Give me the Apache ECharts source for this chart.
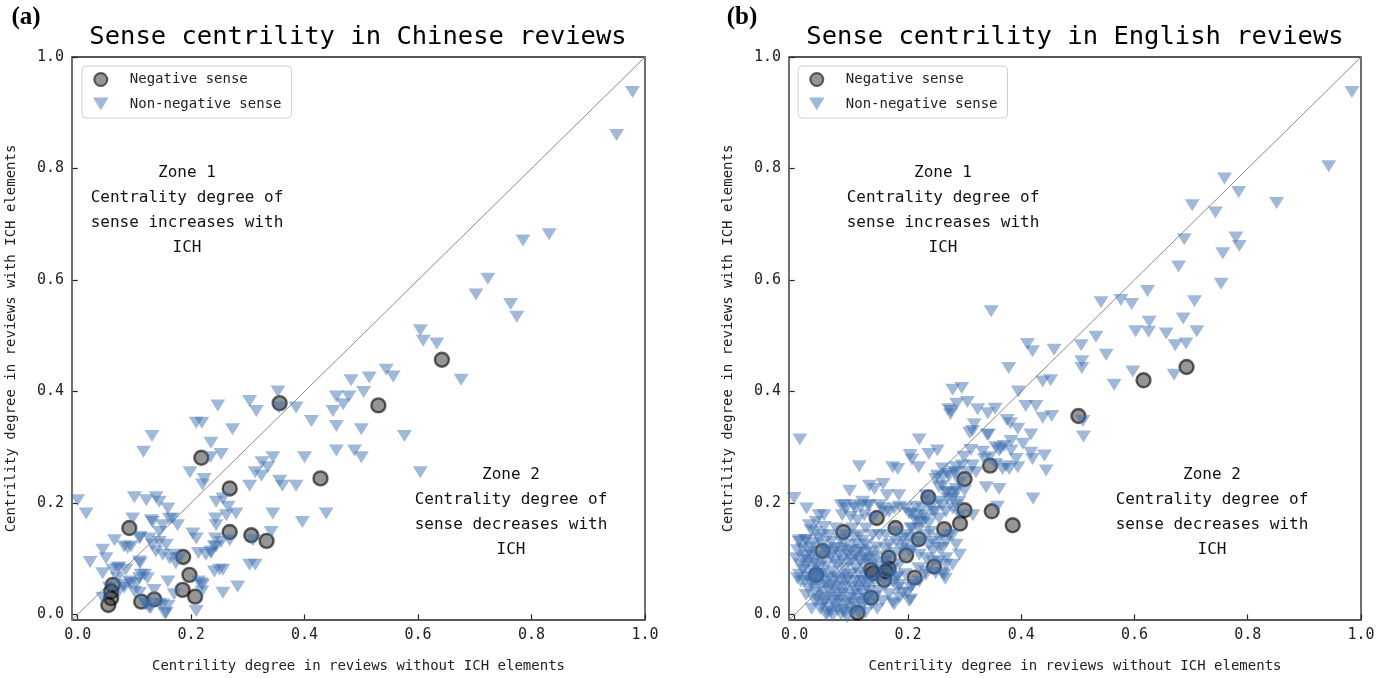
<!DOCTYPE html>
<html>
<head>
<meta charset="utf-8">
<script src="https://cdn.jsdelivr.net/npm/echarts@6/dist/echarts.min.js"></script>
<style>
html,body{margin:0;padding:0;background:#fff;}
#chart{width:1388px;height:678px;}
</style>
</head>
<body>
<div id="chart"></div>
<script>
// ---------- data ----------
const tickValues = [0, 0.2, 0.4, 0.6, 0.8, 1.0];
const diagonal = [[-0.01, -0.01], [1, 1]];

const cnNegative = [
  [0.642,0.457],[0.530,0.375],[0.356,0.379],[0.218,0.281],[0.428,0.244],[0.268,0.226],
  [0.268,0.148],[0.306,0.142],[0.333,0.132],[0.091,0.155],[0.186,0.103],[0.197,0.071],
  [0.185,0.044],[0.207,0.032],[0.135,0.027],[0.112,0.023],[0.062,0.053],[0.059,0.041],
  [0.059,0.029],[0.054,0.017]
];

const cnNonNegative = [
  [0.978,0.937],[0.950,0.860],[0.831,0.682],[0.785,0.671],[0.723,0.602],[0.702,0.574],
  [0.763,0.557],[0.774,0.534],[0.604,0.510],[0.609,0.491],[0.633,0.486],[0.676,0.421],
  [0.544,0.439],[0.556,0.427],
  [0.514,0.425],[0.482,0.420],[0.504,0.399],[0.456,0.391],[0.478,0.391],[0.468,0.377],
  [0.450,0.365],[0.385,0.371],[0.412,0.347],[0.456,0.338],[0.500,0.332],[0.576,0.320],
  [0.456,0.294],[0.488,0.294],[0.500,0.282],[0.400,0.282],[0.604,0.255],[0.438,0.181],
  [0.396,0.166],
  [0.353,0.400],[0.355,0.371],[0.303,0.383],[0.315,0.365],[0.247,0.375],[0.273,0.332],
  [0.209,0.344],[0.219,0.344],[0.235,0.308],[0.253,0.288],[0.234,0.282],[0.198,0.255],
  [0.223,0.243],[0.220,0.233],[0.131,0.320],[0.116,0.292],
  [0.303,0.231],[0.313,0.255],[0.325,0.273],[0.335,0.264],[0.324,0.249],[0.344,0.282],
  [0.356,0.240],[0.361,0.231],[0.385,0.231],
  [0.244,0.202],[0.256,0.208],[0.265,0.193],[0.262,0.178],[0.279,0.181],[0.243,0.172],
  [0.244,0.160],[0.344,0.181],[0.341,0.148],[0.309,0.133],[0.268,0.133],[0.253,0.130],
  [0.243,0.136],[0.241,0.122],[0.235,0.110],[0.213,0.110],[0.203,0.145],[0.209,0.136],
  [0.226,0.107],[0.250,0.080],[0.241,0.077],[0.256,0.080],[0.303,0.089],[0.313,0.089],
  [0.282,0.050],[0.256,0.039],[0.220,0.053],[0.219,0.041],[0.209,0.006],[0.213,0.059],
  [0.154,0.001],[0.159,0.015],[0.144,0.019],[0.121,0.018],[0.129,0.012],
  [0.100,0.210],[0.121,0.205],[0.138,0.210],[0.144,0.202],[0.159,0.190],[0.176,0.160],
  [0.167,0.172],[0.150,0.160],[0.144,0.148],[0.132,0.166],[0.109,0.136],[0.097,0.172],
  [0.065,0.133],[0.082,0.122],[0.088,0.119],[0.044,0.116],[0.050,0.101],[0.022,0.094],
  [0.000,0.205],[0.015,0.181],[0.044,0.074],[0.062,0.080],[0.070,0.083],[0.085,0.080],
  [0.112,0.071],[0.109,0.095],[0.126,0.136],[0.132,0.125],[0.144,0.130],[0.156,0.125],
  [0.150,0.107],[0.162,0.101],[0.170,0.107],[0.179,0.101],[0.173,0.092],[0.138,0.113],
  [0.123,0.065],[0.109,0.065],[0.094,0.056],[0.082,0.048],[0.100,0.041],[0.056,0.048],
  [0.044,0.030],[0.070,0.065],[0.135,0.044],[0.159,0.059],[0.170,0.036],
  [0.130,0.169],[0.162,0.171],[0.110,0.139],[0.094,0.122],[0.073,0.084],[0.110,0.092],
  [0.118,0.071],[0.235,0.113],[0.244,0.122],[0.218,0.056],[0.156,0.003],[0.150,0.018],
  [0.126,0.012],[0.118,0.021],[0.082,0.053],[0.091,0.059],[0.103,0.056],[0.073,0.041],
  [0.109,0.039]
];

const enNegative = [
  [0.692,0.444],[0.616,0.420],[0.501,0.356],[0.345,0.267],[0.300,0.243],[0.300,0.187],
  [0.348,0.185],[0.292,0.163],[0.385,0.160],[0.264,0.153],[0.236,0.210],[0.219,0.135],
  [0.197,0.106],[0.212,0.066],[0.246,0.086],[0.145,0.173],[0.178,0.155],[0.086,0.148],
  [0.166,0.102],[0.166,0.082],[0.138,0.074],[0.158,0.062],[0.135,0.030],[0.111,0.003],
  [0.049,0.114],[0.038,0.071],[0.135,0.080],[0.161,0.077]
];

const enNonNegative = [
  [0.984,0.937],[0.943,0.804],[0.851,0.738],[0.784,0.758],[0.759,0.782],[0.702,0.734],
  [0.743,0.721],[0.688,0.673],[0.779,0.676],[0.785,0.661],[0.756,0.648],[0.678,0.624],
  [0.753,0.593],[0.623,0.580],[0.541,0.560],[0.576,0.564],[0.595,0.557],[0.706,0.562],
  [0.686,0.531],[0.626,0.525],[0.602,0.508],[0.625,0.507],[0.656,0.504],[0.710,0.508],
  [0.672,0.483],[0.691,0.486],[0.532,0.498],[0.506,0.483],[0.550,0.466],[0.458,0.475],
  [0.507,0.454],[0.507,0.442],[0.597,0.436],[0.670,0.430],[0.564,0.412],[0.438,0.418],
  [0.452,0.420],
  [0.509,0.347],[0.510,0.319],[0.438,0.353],[0.454,0.356],[0.444,0.258],
  [0.347,0.544],[0.411,0.485],[0.420,0.472],[0.378,0.442],[0.295,0.406],[0.395,0.400],
  [0.408,0.374],[0.426,0.374],[0.286,0.378],[0.305,0.381],[0.276,0.365],[0.323,0.368],
  [0.341,0.361],[0.354,0.369],[0.317,0.341],[0.314,0.329],[0.342,0.323],[0.375,0.349],
  [0.381,0.343],[0.394,0.333],[0.417,0.323],[0.382,0.311],[0.403,0.306],[0.355,0.300],
  [0.364,0.298],[0.311,0.295],[0.299,0.283],[0.332,0.292],[0.335,0.279],[0.382,0.294],
  [0.391,0.279],[0.417,0.290],[0.420,0.279],[0.355,0.270],[0.373,0.266],[0.394,0.264],
  [0.285,0.264],[0.338,0.228],[0.361,0.225],[0.421,0.208],[0.285,0.225],[0.300,0.222],
  [0.279,0.208],[0.290,0.202],[0.358,0.193],[0.315,0.178],
  [0.279,0.403],[0.272,0.368],[0.275,0.359],[0.309,0.326],[0.340,0.322],[0.441,0.285],
  [0.220,0.314],[0.219,0.264],[0.204,0.286],[0.207,0.278],[0.237,0.288],[0.252,0.294],
  [0.261,0.262],[0.173,0.264],[0.182,0.261],[0.114,0.266],[0.009,0.314],[-0.001,0.209],
  [0.021,0.190],[0.008,0.133],[0.019,0.133],[0.043,0.178],[0.052,0.178],[0.029,0.151],
  [0.049,0.142],[0.097,0.222],[0.132,0.231],[0.141,0.225],[0.156,0.234],[0.088,0.196],
  [0.106,0.190],[0.120,0.202],[0.132,0.196],[0.163,0.214],[0.184,0.214],[0.232,0.214],
  [0.237,0.205],[0.255,0.228],[0.267,0.219],[0.278,0.217],[0.285,0.196],[0.252,0.249],
  [0.261,0.246],[0.270,0.252],[0.282,0.255],[0.291,0.237],
  [0.361,0.294],[0.370,0.302],[0.344,0.282],[0.367,0.261],[0.379,0.261],[0.296,0.267],
  [0.314,0.267],[0.308,0.255],[0.320,0.255],
  [0.261,0.196],[0.248,0.184],[0.237,0.163],[0.240,0.148],[0.255,0.136],[0.273,0.142],
  [0.237,0.125],[0.261,0.119],[0.244,0.095],[0.267,0.089],[0.261,0.074],[0.266,0.064],
  [0.219,0.083],[0.231,0.077],[0.205,0.048],[0.191,0.039],[0.173,0.021],[0.205,0.027],
  [0.184,0.053],[0.182,0.068],[0.203,0.113],[0.191,0.136],[0.205,0.154],[0.196,0.190],
  [0.206,0.181],[0.213,0.178],[0.225,0.190],[0.213,0.169],[0.225,0.166],[0.219,0.154],
  [0.150,0.196],[0.161,0.184],[0.176,0.190],
  [0.038,0.166],[0.082,0.196],[0.090,0.190],[0.105,0.196],[0.117,0.193],[0.129,0.196],
  [0.084,0.178],[0.099,0.175],[0.111,0.169],[0.123,0.178],[0.138,0.172],
  [0.008,0.130],[0.020,0.133],[0.032,0.128],[0.049,0.125],[0.058,0.116],[0.064,0.130],
  [0.073,0.119],[0.090,0.125],[0.099,0.116],[0.108,0.125],[0.117,0.116],[0.126,0.125],
  [0.108,0.104],[0.123,0.101],[0.135,0.113],[0.143,0.104],[0.079,0.107],
  [0.002,0.101],[0.017,0.098],[0.029,0.107],[0.034,0.092],
  [0.014,0.080],[0.023,0.068],[0.008,0.071],[0.043,0.083],[0.055,0.086],[0.067,0.077],
  [0.076,0.089],[0.087,0.083],[0.096,0.092],[0.108,0.083],[0.120,0.089],
  [0.011,0.059],[0.029,0.056],[0.043,0.059],[0.055,0.053],[0.067,0.059],[0.079,0.050],
  [0.090,0.059],[0.102,0.050],[0.114,0.059],[0.126,0.050],
  [0.037,0.039],[0.049,0.033],[0.061,0.042],[0.073,0.030],[0.085,0.039],[0.096,0.030],
  [0.108,0.042],[0.120,0.036],[0.132,0.042],
  [0.049,0.018],[0.061,0.012],[0.073,0.018],[0.085,0.009],[0.096,0.018],[0.108,0.012],
  [0.120,0.018],
  [0.055,0.000],[0.067,-0.003],[0.082,0.000],[0.093,-0.005],
  [0.149,0.065],[0.161,0.053],[0.173,0.059],[0.182,0.047],[0.149,0.042],[0.167,0.036],
  [0.185,0.030],[0.199,0.039],[0.208,0.053],[0.220,0.059],[0.202,0.024],[0.176,0.018],
  [0.155,0.024],
  [0.167,0.125],[0.179,0.130],[0.193,0.125],[0.205,0.136],[0.220,0.130],[0.232,0.142],
  [0.244,0.130],[0.255,0.119],[0.267,0.130],[0.279,0.142],[0.285,0.125],[0.291,0.107],
  [0.208,0.116],[0.220,0.107],[0.232,0.101],[0.244,0.113],[0.255,0.095],[0.267,0.101],
  [0.279,0.089],[0.264,0.071],[0.249,0.074],[0.232,0.071],
  [0.026,0.160],[0.037,0.148],[0.052,0.157],[0.061,0.142],[0.073,0.154],[0.090,0.142],
  [0.102,0.154],[0.114,0.142],[0.126,0.154],[0.138,0.142],[0.149,0.142],[0.161,0.142],
  [0.179,0.148],[0.196,0.142],[0.208,0.154],[0.220,0.166],[0.232,0.172],[0.244,0.184],
  [0.255,0.172],[0.267,0.184],[0.279,0.190],[0.291,0.178],
  [0.155,0.190],[0.167,0.184],[0.185,0.193],[0.202,0.181],[0.214,0.193],[0.226,0.178],
  [0.241,0.193],[0.255,0.202],[0.270,0.208],[0.285,0.219],
  [0.249,0.243],[0.261,0.231],[0.273,0.249],[0.285,0.255],[0.270,0.219],
  [0.014,0.118],[0.026,0.112],[0.040,0.104],[0.052,0.098],[0.064,0.104],[0.070,0.094],
  [0.084,0.098],[0.094,0.106],[0.102,0.098],[0.115,0.095],[0.128,0.097],[0.138,0.090],
  [0.020,0.086],[0.032,0.078],[0.047,0.072],[0.060,0.068],[0.074,0.066],[0.088,0.070],
  [0.100,0.072],[0.113,0.074],[0.125,0.068],[0.140,0.060],
  [0.024,0.046],[0.034,0.054],[0.046,0.046],[0.058,0.030],[0.070,0.045],[0.080,0.024],
  [0.090,0.048],[0.104,0.022],[0.115,0.046],[0.128,0.028],[0.140,0.032],
  [0.064,0.005],[0.076,0.008],[0.100,0.004],[0.114,0.002],[0.045,0.010],[0.035,0.025],
  [0.150,0.086],[0.158,0.094],[0.172,0.082],[0.185,0.090],[0.195,0.072],[0.178,0.110],
  [0.190,0.118],[0.160,0.118],[0.105,0.138],[0.120,0.132],[0.080,0.135],[0.042,0.136],
  [0.030,0.120],
  [0.005,0.115],[0.018,0.105],[0.010,0.090],[0.025,0.096],[0.040,0.090],[0.055,0.112],
  [0.068,0.112],[0.080,0.118],[0.092,0.113],[0.110,0.112],[0.125,0.110],[0.135,0.100],
  [0.005,0.065],[0.018,0.060],[0.030,0.066],[0.040,0.072],[0.052,0.064],[0.063,0.050],
  [0.080,0.062],[0.094,0.065],[0.107,0.060],[0.120,0.060],[0.132,0.056],
  [0.020,0.035],[0.040,0.028],[0.052,0.022],[0.066,0.025],[0.078,0.036],[0.090,0.020],
  [0.102,0.035],[0.112,0.028],[0.124,0.022],[0.136,0.018],[0.146,0.010],
  [0.058,0.002],[0.088,0.003],[0.125,0.003],[0.030,0.010],
  [0.145,0.120],[0.150,0.075],[0.168,0.070],[0.180,0.065],[0.165,0.100]
];

const legendNames = ['Negative sense', 'Non-negative sense'];
const panelTitles = ['Sense centrility in Chinese reviews', 'Sense centrility in English reviews'];
const panelTags = ['(a)', '(b)'];
const xAxisName = 'Centrility degree in reviews without ICH elements';
const yAxisName = 'Centrility degree in reviews with ICH elements';
const zone1Text = 'Zone 1\nCentrality degree of\nsense increases with\nICH';
const zone2Text = 'Zone 2\nCentrality degree of\nsense decreases with\nICH';

// ---------- chart ----------
const MONO = '"DejaVu Sans Mono", monospace';
const TRI = 'path://M0,0L12,0L6,10Z';
const chart = echarts.init(document.getElementById('chart'), null, {renderer: 'canvas'});

const grids = [
  {left: 72, top: 57, width: 573, height: 568},
  {left: 789, top: 57, width: 572, height: 568}
];

function xAx(i) {
  return {
    type: 'value', gridIndex: i, min: -0.01, max: 1.0,
    name: xAxisName, nameLocation: 'middle', nameGap: 39,
    nameTextStyle: {fontFamily: MONO, fontSize: 14, color: '#222'},
    axisLine: {show: false},
    splitLine: {show: false},
    axisTick: {show: true, inside: false, length: 5, customValues: tickValues, lineStyle: {color: '#222', width: 1.2}},
    axisLabel: {customValues: tickValues, margin: 8, fontFamily: MONO, fontSize: 15, color: '#222',
      formatter: v => Number(v).toFixed(1)}
  };
}
function yAx(i) {
  return {
    type: 'value', gridIndex: i, min: -0.01, max: 1.0,
    name: yAxisName, nameLocation: 'middle', nameGap: 54, nameRotate: 90,
    nameTextStyle: {fontFamily: MONO, fontSize: 14, color: '#222'},
    axisLine: {show: false},
    splitLine: {show: false},
    axisTick: {show: true, inside: false, length: 5, customValues: tickValues, lineStyle: {color: '#222', width: 1.2}},
    axisLabel: {customValues: tickValues, margin: 8, fontFamily: MONO, fontSize: 15, color: '#222',
      formatter: v => Number(v).toFixed(1)}
  };
}

function panelSeries(i, neg, nonneg) {
  return [
    {
      type: 'line', xAxisIndex: i, yAxisIndex: i, data: diagonal, symbol: 'none', silent: true,
      lineStyle: {color: '#8a8a8a', width: 1}, z: 1
    },
    {
      name: legendNames[0], type: 'scatter', xAxisIndex: i, yAxisIndex: i, data: neg,
      symbol: 'circle', symbolSize: 14, z: 2,
      itemStyle: {color: 'rgba(40,40,40,0.62)', borderColor: 'rgba(0,0,0,0.75)', borderWidth: 2.4}
    },
    {
      name: legendNames[1], type: 'scatter', xAxisIndex: i, yAxisIndex: i, data: nonneg,
      symbol: TRI, symbolSize: [15, 12], z: 3,
      itemStyle: {color: 'rgba(58,108,174,0.6)'}
    }
  ];
}

function legend(left) {
  return {
    orient: 'vertical', left: left, top: 66,
    data: [
      {name: legendNames[0], icon: 'circle'},
      {name: legendNames[1], icon: TRI}
    ],
    itemWidth: 24, itemHeight: 13, itemGap: 10,
    padding: [6, 10, 7, 11],
    backgroundColor: '#fff', borderColor: '#d0d0d0', borderWidth: 1, borderRadius: 4,
    textStyle: {fontFamily: MONO, fontSize: 14, color: '#222', padding: [0, 0, 0, 12]},
    selectedMode: false
  };
}

function txt(x, y, text, opts) {
  return {
    type: 'text', x: x, y: y, silent: true,
    style: Object.assign({text: text, fill: '#111', fontFamily: MONO, fontSize: 16,
      align: 'center', verticalAlign: 'middle', lineHeight: 25}, opts || {})
  };
}

const option = {
  backgroundColor: '#fff',
  animation: false,
  grid: grids.map(g => Object.assign({show: true, borderColor: '#222', borderWidth: 1.3, backgroundColor: '#fff'}, g)),
  xAxis: [xAx(0), xAx(1)],
  yAxis: [yAx(0), yAx(1)],
  legend: [legend(82), legend(798)],
  series: [].concat(panelSeries(0, cnNegative, cnNonNegative), panelSeries(1, enNegative, enNonNegative)),
  graphic: [
    txt(26, 18, panelTags[0], {fontFamily: '"Liberation Serif", serif', fontWeight: 'bold', fontSize: 25, fill: '#000'}),
    txt(742, 18, panelTags[1], {fontFamily: '"Liberation Serif", serif', fontWeight: 'bold', fontSize: 25, fill: '#000'}),
    txt(358, 37, panelTitles[0], {fontSize: 25.5, fill: '#000'}),
    txt(1075, 37, panelTitles[1], {fontSize: 25.5, fill: '#000'}),
    txt(187, 210, zone1Text),
    txt(511, 512, zone2Text),
    txt(943, 210, zone1Text),
    txt(1212, 512, zone2Text)
  ]
};
chart.setOption(option);
</script>
</body>
</html>
